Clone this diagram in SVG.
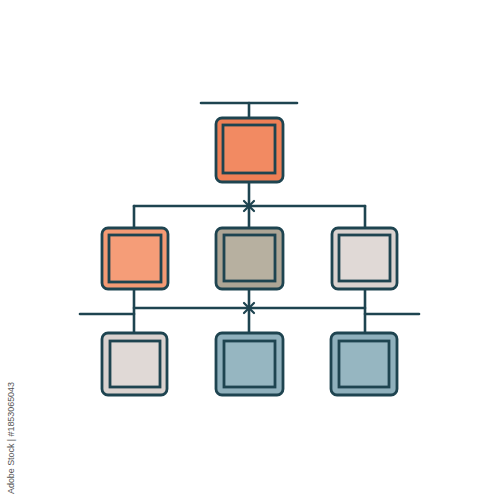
<svg xmlns="http://www.w3.org/2000/svg" width="500" height="500" viewBox="0 0 500 500">
<style>
.ln{stroke:#1E4450;stroke-width:2.6;fill:none;stroke-linecap:round}
.outer{stroke:#1E4450;stroke-width:2.8}
.inner{stroke:#1E4450;stroke-width:2.8}
.star{stroke:#1E4450;stroke-width:2.2;stroke-linecap:round}
.wm{font-family:"Liberation Sans",Arial,sans-serif;font-size:9px;fill:#555}
</style>
<rect width="500" height="500" fill="#fff"/>
<g id="connectors">
<line class="ln" x1="201" y1="103" x2="297" y2="103"/>
<line class="ln" x1="249" y1="103" x2="249" y2="118"/>
<line class="ln" x1="249" y1="182" x2="249" y2="228"/>
<line class="ln" x1="134" y1="206" x2="365" y2="206"/>
<line class="ln" x1="134" y1="206" x2="134" y2="228"/>
<line class="ln" x1="365" y1="206" x2="365" y2="228"/>
<path class="star" d="M244 201 L254 211 M254 201 L244 211"/>
<line class="ln" x1="134" y1="289" x2="134" y2="333"/>
<line class="ln" x1="249" y1="289" x2="249" y2="333"/>
<line class="ln" x1="365" y1="289" x2="365" y2="333"/>
<line class="ln" x1="134" y1="308" x2="365" y2="308"/>
<line class="ln" x1="80" y1="314" x2="134" y2="314"/>
<line class="ln" x1="365" y1="314" x2="419" y2="314"/>
<path class="star" d="M244 303 L254 313 M254 303 L244 313"/>
</g>
<g id="top">
<rect class="outer" x="216" y="118" width="67" height="64" rx="6" fill="#EF7F55"/>
<rect class="inner" x="223" y="125" width="52" height="48" fill="#F28A62"/>
</g>
<g id="mid-left">
<rect class="outer" x="102" y="228" width="66" height="61" rx="6" fill="#F49A74"/>
<rect class="inner" x="109" y="235" width="52" height="47" fill="#F59D78"/>
</g>
<g id="mid-center">
<rect class="outer" x="216" y="228" width="67" height="61" rx="6" fill="#ADA595"/>
<rect class="inner" x="224" y="235" width="51" height="46" fill="#B7B0A0"/>
</g>
<g id="mid-right">
<rect class="outer" x="332" y="228" width="65" height="61" rx="6" fill="#DAD2CF"/>
<rect class="inner" x="339" y="235" width="51" height="46" fill="#E0D9D6"/>
</g>
<g id="bot-left">
<rect class="outer" x="102" y="333" width="65" height="62" rx="6" fill="#DAD2CF"/>
<rect class="inner" x="110" y="341" width="50" height="46" fill="#E0D9D6"/>
</g>
<g id="bot-center">
<rect class="outer" x="216" y="333" width="67" height="62" rx="6" fill="#8FB0BC"/>
<rect class="inner" x="224" y="341" width="51" height="46" fill="#96B6C1"/>
</g>
<g id="bot-right">
<rect class="outer" x="331" y="333" width="66" height="62" rx="6" fill="#8FB0BC"/>
<rect class="inner" x="339" y="341" width="50" height="46" fill="#96B6C1"/>
</g>
<text class="wm" transform="translate(14,494) rotate(-90)" textLength="112">Adobe Stock | #1853065043</text>
</svg>
